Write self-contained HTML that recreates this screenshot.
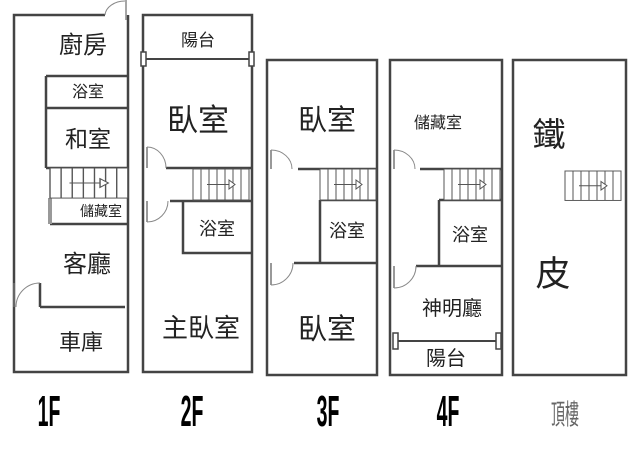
<!DOCTYPE html>
<html><head><meta charset="utf-8"><style>
html,body{margin:0;padding:0;background:#fff;width:640px;height:474px;overflow:hidden}
text{font-family:"Liberation Sans","Noto Sans CJK TC",sans-serif;fill:#222}
</style></head><body>
<svg width="640" height="474" viewBox="0 0 640 474" xmlns="http://www.w3.org/2000/svg">
<defs>
<g id="st">
<rect x="0" y="0" width="56" height="31" fill="#fff" stroke="#555" stroke-width="1"/>
<path d="M8 0V31M16 0V31M24 0V31M32 0V31M40 0V31M48 0V31" stroke="#555" stroke-width="1"/>
<path d="M14 15.5H36" stroke="#555" stroke-width="1"/>
<path d="M36 11L42 15.5L36 20Z" fill="#fff" stroke="#555" stroke-width="1"/>
</g>
</defs>
<g fill="none" stroke="#444" stroke-width="2.5">
<path d="M105 15H14V372H128V15"/>
<path d="M126 0V20" stroke-width="1.5" stroke="#888"/>
<path d="M105 15A20 15 0 0 1 125 1" stroke="#888" stroke-width="1"/>
<path d="M46 76H128M46 108H128M46 76V168M46 168H128"/>
<path d="M50 224H128"/>
<path d="M50 198V224" stroke="#999" stroke-width="4"/>
<path d="M40 307H125M40 283V307"/>
<path d="M16 307A24 24 0 0 1 40 283" stroke="#888" stroke-width="1"/>
<path d="M14 283V307" stroke="#888" stroke-width="1"/>
<rect x="143" y="15" width="109" height="357"/>
<path d="M143 59H252" stroke-width="2"/>
<path d="M166 168H252M170 201H252M183 201V253H252"/>
<path d="M147 147V168" stroke="#999" stroke-width="2"/>
<path d="M147 147A19 21 0 0 1 166 168" stroke="#888" stroke-width="1"/>
<path d="M147 201V222" stroke="#999" stroke-width="2"/>
<path d="M147 222A21 21 0 0 0 168 201" stroke="#888" stroke-width="1"/>
<rect x="267" y="60" width="110" height="315"/>
<path d="M298 169H377M320 200H377M320 200V263M294 263H377"/>
<path d="M271 150V169" stroke="#999" stroke-width="2"/>
<path d="M271 150A21 19 0 0 1 292 169" stroke="#888" stroke-width="1"/>
<path d="M271 263V285" stroke="#999" stroke-width="2"/>
<path d="M271 285A22 22 0 0 0 293 263" stroke="#888" stroke-width="1"/>
<rect x="390" y="60" width="112" height="315"/>
<path d="M420 169H502M439 200H502M439 200V266M416 266H502"/>
<path d="M395 341H498" stroke-width="2"/>
<path d="M394 150V169" stroke="#999" stroke-width="2"/>
<path d="M394 150A21 19 0 0 1 415 169" stroke="#888" stroke-width="1"/>
<path d="M394 266V288" stroke="#999" stroke-width="2"/>
<path d="M394 288A22 22 0 0 0 416 266" stroke="#888" stroke-width="1"/>
<rect x="513" y="60" width="113" height="315"/>
</g>
<g fill="#fff" stroke="#444" stroke-width="1.5">
<rect x="141" y="52" width="5" height="14"/><rect x="249" y="52" width="5" height="14"/>
<rect x="393" y="333" width="5" height="16"/><rect x="496" y="333" width="5" height="16"/>
</g>
<use href="#st" transform="translate(50 168) scale(1.39 0.97)"/>
<use href="#st" x="193" y="169"/>
<use href="#st" x="320" y="169"/>
<use href="#st" x="444" y="169"/>
<use href="#st" transform="translate(565 171) scale(1 0.95)"/>
<g font-size="21" text-anchor="middle">
<text x="83" y="53" font-size="24">廚房</text>
<text x="88" y="97" font-size="16">浴室</text>
<text x="88" y="147" font-size="23">和室</text>
<text x="101" y="216" font-size="14">儲藏室</text>
<text x="87" y="272" font-size="24">客廳</text>
<text x="81" y="350" font-size="22">車庫</text>
<text x="198" y="46" font-size="17">陽台</text>
<text x="198" y="131" font-size="31">臥室</text>
<text x="217" y="235" font-size="18">浴室</text>
<text x="201" y="337" font-size="26">主臥室</text>
<text x="327" y="130" font-size="29">臥室</text>
<text x="347" y="237" font-size="18">浴室</text>
<text x="327" y="339" font-size="29">臥室</text>
<text x="438" y="128" font-size="16">儲藏室</text>
<text x="470" y="241" font-size="18">浴室</text>
<text x="452" y="315" font-size="20">神明廳</text>
<text x="446" y="365" font-size="20">陽台</text>
<text x="549" y="146" font-size="33">鐵</text>
<text x="553" y="286" font-size="35">皮</text>
</g>
<g font-family="Liberation Sans Narrow,Liberation Sans,sans-serif" font-weight="bold" font-size="30" text-anchor="middle">
<text transform="translate(49 426) scale(0.65 1.45)" style="fill:#000">1F</text>
<text transform="translate(192 426) scale(0.65 1.45)" style="fill:#000">2F</text>
<text transform="translate(328 426) scale(0.65 1.45)" style="fill:#000">3F</text>
<text transform="translate(448 426) scale(0.65 1.45)" style="fill:#000">4F</text>
</g>
<text font-size="20" text-anchor="middle" style="fill:#666" transform="translate(565 424) scale(0.7 1.4)">頂樓</text>
</svg>
</body></html>
